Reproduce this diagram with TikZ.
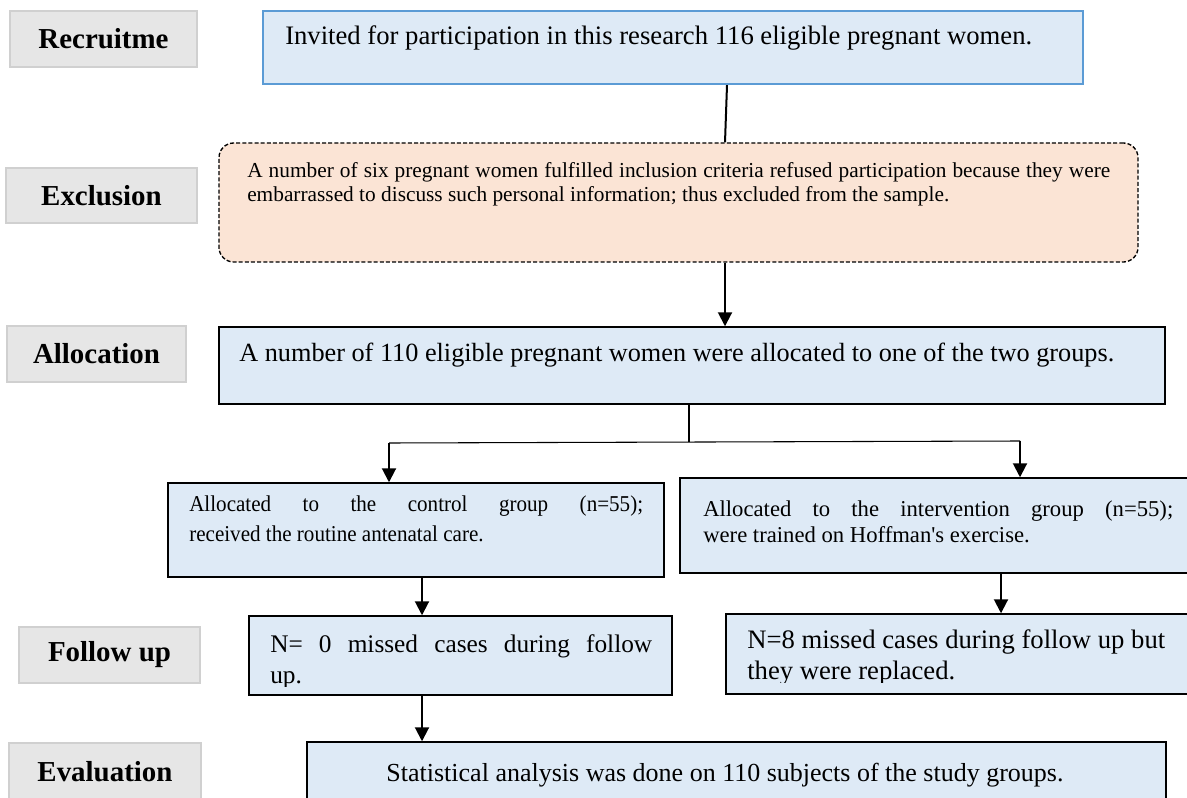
\documentclass[tikz,border=0pt]{standalone}
\usepackage{fontspec}
\usepackage{graphicx}
\setmainfont{Liberation Serif}
\usetikzlibrary{arrows.meta}
\definecolor{boxfill}{HTML}{DEEAF6}
\definecolor{peach}{HTML}{FBE4D5}
\definecolor{labfill}{HTML}{E6E6E6}
\definecolor{labline}{HTML}{D0D0D0}
\definecolor{topline}{HTML}{5B9BD5}
\newcommand{\fs}[1]{\fontsize{#1}{#1}\selectfont}
\newcommand{\nrw}[1]{\scalebox{0.93}[1]{#1}}
\begin{document}
\begin{tikzpicture}[x=0.75pt,y=-0.75pt,
  lab/.style={draw=labline, fill=labfill, line width=1.5pt, font=\fs{21.7}\bfseries, inner sep=0pt},
  box/.style={draw=black, fill=boxfill, line width=1.1pt, inner sep=0pt},
  txt/.style={anchor=base west, inner sep=0pt},
  conn/.style={line width=1.5pt, -{Triangle[width=10.5pt,length=10.5pt]}},
  plain/.style={line width=1.5pt},
  thinline/.style={line width=0.8pt},
  sz/.style 2 args={minimum width=#1*0.75pt, minimum height=#2*0.75pt}]
\useasboundingbox (0,0) rectangle (1187,798);
\clip (0,0) rectangle (1187,798);

% stage labels
\node[lab, sz={187}{56}] (L1) at (103.5,39) {Recruitme};
\node[lab, sz={191}{55}] (L2) at (101.5,195.5) {Exclusion};
\node[lab, sz={179}{56}] (L3) at (96.5,354) {Allocation};
\node[lab, sz={181}{56}] (L4) at (109.5,655) {Follow up};
\node[lab, sz={192}{57}] (L5) at (105,771.5) {Evaluation};

% boxes
\node[box, draw=topline, line width=1.6pt, sz={820}{73}] (B1) at (673,47.5) {};
\node[box, fill=peach, dash pattern=on 3pt off 1.6pt, line width=1pt, rounded corners=11pt, sz={919}{119}] (B2) at (678.5,202.5) {};
\node[box, sz={946}{77}] (B3) at (692,365.5) {};
\node[box, sz={496}{94}] (B4) at (416,530) {};
\node[box, sz={515}{95}] (B5) at (937.5,525.5) {};
\node[box, sz={423}{79}] (B6) at (460.5,655.5) {};
\node[box, sz={469}{80}] (B7) at (960.5,654) {};
\node[box, sz={859}{68}] (B8) at (736.5,776) {};

% texts
\node[txt, font=\fs{20}] (T1) at (285,45) {Invited for participation in this research 116 eligible pregnant women.};
\node[txt, font=\fs{16}] (T2a) at (247,178) {\makebox[647.25pt][s]{A number of six pregnant women fulfilled inclusion criteria refused participation because they were}};
\node[txt, font=\fs{16}] (T2b) at (247,202) {embarrassed to discuss such personal information; thus excluded from the sample.};
\node[txt, font=\fs{19.7}] (T3) at (239,361) {A number of 110 eligible pregnant women were allocated to one of the two groups.};
\node[txt, font=\fs{17}] (T4a) at (189,511) {\nrw{\makebox[366pt][s]{Allocated to the control group (n=55);}}};
\node[txt, font=\fs{17}] (T4b) at (189,541) {\nrw{received the routine antenatal care.}};
\node[txt, font=\fs{17}] (T5a) at (703,516) {\makebox[352.5pt][s]{Allocated to the intervention group (n=55);}};
\node[txt, font=\fs{17}] (T5b) at (703,542) {were trained on Hoffman\textquotesingle s exercise.};
\begin{scope}
\clip ([yshift=7pt]B6.south west) rectangle (B6.north east);
\node[txt, font=\fs{19}] (T6a) at (270,652) {\makebox[286.5pt][s]{N= 0 missed cases during follow}};
\node[txt, font=\fs{19}] (T6b) at (270,683) {up.};
\end{scope}
\begin{scope}
\clip ([yshift=9pt]B7.south west) rectangle (B7.north east);
\node[txt, font=\fs{20}] (T7a) at (747,648) {N=8 missed cases during follow up but};
\node[txt, font=\fs{20}] (T7b) at (747,679) {they were replaced.};
\end{scope}
\node[anchor=base, inner sep=0pt, font=\fs{19.5}] (T8) at (725,781) {Statistical analysis was done on 110 subjects of the study groups.};

% connectors
\draw[plain] (727,0 |- B1.south) -- (725,0 |- B2.north);
\draw[conn] (725,0 |- B2.south) -- (725,0 |- B3.north);
\coordinate (sp) at (689,442);
\coordinate (sl) at (389,443);
\coordinate (sr) at (1020,441);
\draw[thinline] (689,0 |- B3.south) -- (sp);
\draw[thinline] (sl) -- (sr);
\draw[conn] (sl) -- (sl |- B4.north);
\draw[conn] (sr) -- (sr |- B5.north);
\draw[conn] (422,0 |- B4.south) -- (422,0 |- B6.north);
\draw[conn] (1001,0 |- B5.south) -- (1001,0 |- B7.north);
\draw[conn] (422,0 |- B6.south) -- (422,0 |- B8.north);
\end{tikzpicture}
\end{document}
